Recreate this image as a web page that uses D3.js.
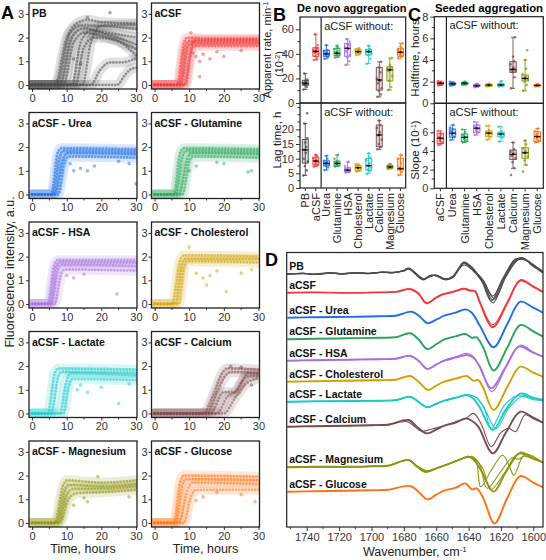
<!DOCTYPE html>
<html>
<head>
<meta charset="utf-8">
<script src="https://cdn.jsdelivr.net/npm/d3@7"></script>
<style>
body { margin: 0; background: #fff; }
svg { font-family: Arial, "Liberation Sans", sans-serif; }
</style>
</head>
<body>
<svg id="fig" width="546" height="560"></svg>
<script>
// ---- shared categories / colours
var sampleNames = ["PB", "aCSF", "Urea", "Glutamine", "HSA", "Cholesterol", "Lactate", "Calcium", "Magnesium", "Glucose"];
var sampleColors = ["#4d4d4d", "#f03c3c", "#1e6ee6", "#2aa55a", "#a86fe0", "#d1a000", "#1ec8c8", "#7b4b4b", "#8c9610", "#ff7314"];
var panelTitles = ["PB", "aCSF", "aCSF - Urea", "aCSF - Glutamine", "aCSF - HSA", "aCSF - Cholesterol", "aCSF - Lactate", "aCSF - Calcium", "aCSF - Magnesium", "aCSF - Glucose"];

// ---- A: kinetic curves, [time h, intensity] key points per replicate
var curvesPB = [
  [[0,0],[6.5,0],[10,2.0],[13,2.6],[16,2.75],[20,2.65],[30.3,2.6]],
  [[0,0],[7,0],[11,2.2],[14,2.5],[18,2.5],[30.3,2.35]],
  [[0,0],[8,0],[11.5,2.0],[15,2.4],[20,2.2],[30.3,1.7]],
  [[0,0],[9,0],[12,1.8],[15,2.2],[22,2.0],[30.3,1.5]],
  [[0,0],[11.5,0],[14,1.8],[17,2.3],[22,2.2],[30.3,2.0]],
  [[0,0],[12.5,0],[15,1.6],[18,2.0],[24,1.9],[30.3,1.2]],
  [[0,0],[14.5,0],[17,1.8],[20,2.5],[30.3,2.55]],
  [[0,0],[17,0],[19.5,0.6],[22.5,0.95],[26,0.95],[30.3,1.15]],
  [[0,0],[24.5,0],[27,0.45],[29,0.7],[30.3,0.72]]
];
var outPB = [[22.5,3.05],[16,2.85],[12,1.1],[14,0.9]];
var curvesACSF = [
  [[0,0],[6.5,0],[8.5,1.8],[9.5,2.0],[15,1.95],[30.3,1.95]],
  [[0,0],[7,0],[9,1.7],[10,1.85],[30.3,1.85]],
  [[0,0],[7.5,0],[9.5,1.6],[10.5,1.75],[30.3,1.75]],
  [[0,0],[8.5,0],[10.5,1.5],[11.5,1.9],[30.3,1.9]],
  [[0,0],[9,0],[11,1.6],[12,1.65],[30.3,1.65]]
];
var outACSF = [[10.5,2.2],[12,1.2],[13,1.0],[14,1.3],[16,1.1],[18,1.4],[20,1.2],[11,1.35],[25,1.45],[13,0.35]];
var curvesUrea = [
  [[0,0],[5.5,0],[7.5,1.8],[8.5,1.95],[30.3,1.9]],
  [[0,0],[6,0],[8,1.6],[9,1.85],[30.3,1.8]],
  [[0,0],[6.5,0],[9,1.5],[10,1.75],[30.3,1.7]],
  [[0,0],[7.5,0],[9.5,1.4],[10.5,1.6],[30.3,1.55]]
];
var outUrea = [[12,1.0],[14,1.1],[16,1.0],[18,1.2],[11,1.3],[25,1.4],[30,0.45],[28,1.3]];
var curvesGlutamine = [
  [[0,0],[5.5,0],[7.5,1.8],[8.5,1.95],[30.3,1.9]],
  [[0,0],[6,0],[8,1.6],[9,1.85],[30.3,1.8]],
  [[0,0],[7,0],[9.5,1.5],[10.5,1.75],[30.3,1.7]],
  [[0,0],[8,0],[10,1.4],[11,1.6],[30.3,1.55]]
];
var outGlutamine = [[10,1.0],[12,1.2],[20,1.3],[28,1.0],[27,0.95],[18,1.35]];
var curvesHSA = [
  [[0,0],[4.5,0],[6.5,1.7],[7.5,1.85],[30.3,1.85]],
  [[0,0],[5,0],[7,1.6],[8,1.75],[30.3,1.75]],
  [[0,0],[5.5,0],[7.5,1.5],[8.5,1.65],[30.3,1.6]],
  [[0,0],[6.5,0],[8.5,1.3],[9.5,1.45],[30.3,1.4]]
];
var outHSA = [[24.5,0.42],[10,1.2],[15,1.25],[12,1.1]];
var curvesCholesterol = [
  [[0,0],[5,0],[7.5,1.9],[8.5,2.05],[30.3,2.0]],
  [[0,0],[6,0],[8,1.7],[9,1.9],[30.3,1.9]],
  [[0,0],[7,0],[8.5,1.5],[9.5,1.8],[30.3,1.75]]
];
var outCholesterol = [[10,2.4],[12,1.3],[14,1.1],[15,0.8],[16,1.2],[20.7,0.52],[18,1.4],[25,1.3],[28,1.45]];
var curvesLactate = [
  [[0,0],[4.5,0],[6.5,1.7],[7.5,1.9],[30.3,1.85]],
  [[0,0],[5.5,0],[7.5,1.5],[8.5,1.75],[30.3,1.7]],
  [[0,0],[8,0],[10,1.4],[11,1.7],[30.3,1.6]],
  [[0,0],[9,0],[10.5,1.1],[11.5,1.45],[30.3,1.4]]
];
var outLactate = [[25,0.42],[13,1.0],[14,1.2],[20,1.1],[28,1.25],[16,0.9]];
var curvesCalcium = [
  [[0,0],[14,0],[17,0.8],[19.5,1.7],[21,1.9],[30.3,1.85]],
  [[0,0],[15,0],[18,0.9],[20,1.5],[22,1.75],[30.3,1.7]],
  [[0,0],[16,0],[20,0.9],[23,0.9],[25,1.3],[27,1.7],[30.3,1.7]],
  [[0,0],[18,0],[21,0.7],[24,1.0],[26,1.5],[28,1.6],[30.3,1.6]],
  [[0,0],[20,0],[23,0.6],[26,1.2],[30.3,1.5]]
];
var outCalcium = [[22,2.0],[25,1.95],[28,1.2]];
var curvesMagnesium = [
  [[0,0],[6.5,0],[9,1.6],[10,1.8],[20,1.7],[30.3,1.8]],
  [[0,0],[7,0],[9.5,1.4],[10.5,1.6],[20,1.55],[30.3,1.65]],
  [[0,0],[7.5,0],[10,1.2],[12,1.45],[20,1.45],[30.3,1.55]],
  [[0,0],[8,0],[10.5,1.0],[13,1.25],[20,1.3],[30.3,1.4]]
];
var outMagnesium = [[16,0.9],[15,1.05],[19,1.95],[28,1.1],[12,0.75]];
var curvesGlucose = [
  [[0,0],[5.5,0],[7.5,1.8],[8.5,2.0],[30.3,1.95]],
  [[0,0],[6,0],[8,1.6],[9,1.85],[30.3,1.8]],
  [[0,0],[7,0],[9.5,1.4],[11,1.7],[30.3,1.65]],
  [[0,0],[8.5,0],[10.5,1.1],[12,1.4],[30.3,1.4]]
];
var outGlucose = [[12,0.95],[14,1.1],[29,0.9],[25,1.2],[18,1.3]];
var kinCurves = [curvesPB, curvesACSF, curvesUrea, curvesGlutamine, curvesHSA, curvesCholesterol, curvesLactate, curvesCalcium, curvesMagnesium, curvesGlucose];
var kinOutliers = [outPB, outACSF, outUrea, outGlutamine, outHSA, outCholesterol, outLactate, outCalcium, outMagnesium, outGlucose];
var timeTicks = [0, 10, 20, 30];
var intensityTicks = [0, 1, 2, 3];

// ---- B / C: box stats [min, q1, median, q3, max] and individual points
var rateStats = [[11,14.5,16,18.5,24],[35,38,42,45,56],[36,38,40,43,47],[37,38.5,40.5,44.5,46.5],[31,38,44.5,48.5,52],[39,40,41.8,43.7,44.5],[32,39,41.8,43.7,46.5],[5,10.5,18.7,29,33.5],[10.5,18,27,29.5,36.5],[36.5,38,41.3,44.5,48.5]];
var ratePoints = [[11,13,14.5,15,15.5,16,16.5,17,18,19,24],[35,36,38,40,41,42,43,44,45,47,56],[36,37.5,38.5,39.5,40,41,42,43,47],[37,38,39,40,41,42,44,45,46.5],[31,34,37,39,42,44,45,47,48,50,52],[39,40,41,41.5,42,43,43.5,44.5],[32,36,39,40.5,41.5,42,43,44,46.5],[5,7,10,12,16,18,20,25,29,33.5],[10.5,13,18,22,26,27,28,29,31,36.5],[36.5,38,39,40.5,41,42,43,44.5,46,48.5]];
var lagStats = [[4.3,8.5,13,16.5,22],[7.3,7.8,9.2,10.5,11.3],[6.1,7.5,8.4,9.3,11],[7.3,7.6,8.4,9.2,11.3],[5.2,5.6,6.1,6.9,8.9],[5.6,5.9,6.9,7.8,8.2],[4.9,6.1,7.6,10.1,11.8],[13.2,14.1,18.1,21.5,23],[6.5,6.7,7.2,7.8,8.2],[4.4,6.1,6.6,10.1,11.3]];
var lagPoints = [[4.3,6,7.5,9,10,12,13,14,15.5,17,22,25.5],[7.3,7.8,8.3,8.8,9.2,9.6,10.2,10.8,11.3],[6.1,7,7.6,8,8.4,8.8,9.3,10,11],[7.3,7.6,8,8.4,8.8,9.2,10,11.3],[5.2,5.5,5.8,6.1,6.4,6.9,7.5,8.9],[5.6,5.9,6.3,6.9,7.2,7.8,8.2],[4.9,5.8,6.3,7,7.6,8.5,9.5,10.5,11.8],[13.2,14,15,16.5,18,19,20.5,21.5,23],[6.5,6.8,7.1,7.3,7.6,8.2],[4.4,5.5,6.2,6.6,7,8.5,10,11.3]];
var halfStats = [[1.65,1.75,1.85,1.95,2.05],[1.62,1.72,1.8,1.88,1.98],[1.68,1.76,1.85,1.92,2.0],[1.48,1.55,1.62,1.72,1.8],[1.55,1.6,1.68,1.75,1.82],[1.55,1.62,1.7,1.8,2.05],[1.38,2.86,3.14,3.84,6.1],[1.16,2.06,2.3,2.61,4.0],[1.55,1.6,1.65,1.72,1.78]];
var halfPoints = [[1.65,1.72,1.8,1.85,1.9,1.95,2.05],[1.62,1.7,1.76,1.8,1.85,1.9,1.98],[1.68,1.75,1.82,1.85,1.9,2.0],[1.48,1.55,1.6,1.65,1.7,1.8],[1.55,1.6,1.66,1.7,1.75,1.82],[1.55,1.62,1.68,1.72,1.8,2.05],[1.38,2.4,2.9,3.0,3.1,3.3,3.6,3.9,4.3,6.1,7.4],[1.16,1.7,2.0,2.2,2.3,2.5,2.7,3.2,4.0,4.9],[1.55,1.6,1.64,1.68,1.72,1.78]];
var slopeStats = [[4.64,4.8,5.36,5.9,6.14],[5.18,5.47,5.9,6.35,6.78],[4.9,5.0,5.46,5.82,6.3],[5.7,5.96,6.43,6.78,7.1],[5.2,5.53,5.9,6.14,6.7],[5.0,5.5,5.8,6.0,6.6],[2.14,3.1,3.64,4.1,4.9],[2.5,3.21,3.8,4.35,5.1],[4.9,5.0,5.53,6.07,6.4]];
var slopePoints = [[4.64,4.9,5.1,5.3,5.5,5.8,6.14],[5.18,5.5,5.7,5.9,6.1,6.3,6.5,6.78],[4.9,5.1,5.3,5.5,5.7,6.0,6.3],[5.7,6.0,6.2,6.4,6.6,6.8,7.1],[5.2,5.5,5.7,5.9,6.0,6.2,6.7],[5.0,5.4,5.6,5.8,5.9,6.1,6.6],[1.43,2.14,2.8,3.2,3.5,3.7,3.9,4.2,4.9],[1.78,2.5,3.0,3.4,3.8,4.0,4.3,4.7,5.1],[4.9,5.1,5.3,5.5,5.7,5.9,6.1,6.4]];
var rateTicks = [0, 20, 40, 60], lagTicks = [0, 5, 10, 15, 20];
var halfTicks = [0, 2, 4, 6, 8], slopeTicks = [0, 2, 4, 6];

// ---- D: second-derivative spectra, [wavenumber, shift from trace baseline] per replicate
var spectraLabels = ["PB", "aCSF", "aCSF - Urea", "aCSF - Glutamine", "aCSF - HSA", "aCSF - Cholesterol", "aCSF - Lactate", "aCSF - Calcium", "aCSF - Magnesium", "aCSF - Glucose"];
var spectraOffsets = [253, 234.3, 209.3, 187.7, 166.3, 145.3, 125.3, 100.3, 59.7, 35.3];
var specPB = [
  [[1752,0],[1742,0.8],[1735,-0.3],[1726,1],[1718,0.2],[1710,1.2],[1702,0.5],[1694,1.8],[1686,1.5],[1680,3.5],[1677,5.7],[1673,1],[1668,-5],[1664,-2],[1660,-1.5],[1655,-5],[1650,-3],[1643,11.3],[1638,6],[1631,-8],[1625,-26],[1618,-4],[1610,14],[1606,15.7],[1600,8],[1594,1.3]],
  [[1752,0],[1742,0.5],[1735,0],[1726,1.2],[1718,0],[1710,1],[1702,0.8],[1694,1.5],[1686,1.8],[1680,3],[1677,5],[1673,0],[1668,-6],[1663,-1],[1659,-2.5],[1654,-6],[1649,-2],[1643,10.5],[1638,5],[1631,-6],[1625,-22],[1618,-2],[1611,15],[1605,14],[1600,9],[1594,2]],
  [[1752,0],[1742,0.6],[1735,-0.5],[1726,0.8],[1718,0.4],[1710,1.4],[1702,0.3],[1694,1.6],[1686,1.2],[1680,3.8],[1677,6],[1673,1.5],[1668,-4.5],[1664,-3],[1660,-1],[1655,-4.5],[1650,-4],[1643,12],[1638,7],[1631,-9],[1625,-29],[1618,-6],[1612,13],[1607,16.5],[1600,8.5],[1594,1]],
  [[1752,0],[1742,0.7],[1735,-0.2],[1726,1.1],[1718,0.1],[1710,1.1],[1702,0.6],[1694,1.7],[1686,1.6],[1680,3.2],[1677,5.4],[1673,0.5],[1668,-5.5],[1664,-1.5],[1660,-2],[1655,-5.5],[1650,-2.5],[1643,11],[1638,5.5],[1631,-7],[1624,-24.5],[1617,-3],[1609,14.5],[1604,13.5],[1600,9.5],[1594,2.5]],
  [[1752,0],[1742,0.4],[1735,-0.4],[1726,0.9],[1718,0.3],[1710,1.3],[1702,0.4],[1694,1.9],[1686,1.4],[1680,3.4],[1677,5.2],[1673,0.8],[1668,-4.8],[1664,-2.5],[1660,-1.2],[1655,-5.2],[1650,-3.5],[1643,9],[1638,4.5],[1632,-7],[1626,-27],[1619,-5],[1611,13],[1606,15],[1600,7.5],[1594,1.5]]
];
var specACSF = [
  [[1752,0],[1735,0.3],[1715,-0.2],[1695,0.3],[1685,0.8],[1676,3.5],[1671,-1],[1666,-10.5],[1660,-5],[1657,-2.3],[1649,1],[1643,4],[1639,2],[1636,1.5],[1633,-10],[1625,-34.5],[1616,-10],[1608,12],[1600,6],[1594,0.5]],
  [[1752,0],[1735,0.4],[1715,0],[1695,0.4],[1685,1],[1676,3.8],[1671,-0.5],[1666,-10],[1660,-4.5],[1657,-2],[1649,1.3],[1643,4.5],[1639,2.5],[1636,1.8],[1633,-9],[1625,-32],[1616,-9],[1608,13],[1600,6.5],[1594,1]]
];
var specUrea = [
  [[1752,0],[1735,0.5],[1715,0.8],[1695,1.5],[1685,2],[1675,6],[1670,1],[1665.5,-5.6],[1660,-2],[1655,2],[1648,5],[1642,8.3],[1638,5],[1633,-8],[1624.5,-29.6],[1616,-6],[1608,16],[1600,10],[1594,5]]
];
var specGlutamine = [
  [[1752,0],[1735,0.5],[1715,1],[1695,1.5],[1685,2],[1676,6],[1671,0],[1665.5,-9.7],[1660,-5],[1655,0],[1648,3],[1642,5.3],[1638,1.5],[1635,2],[1631,-8],[1624.5,-31.3],[1616,-8],[1608,14.3],[1600,8],[1594,2.7]]
];
var specHSA = [
  [[1752,0],[1735,0.5],[1715,1],[1695,1.5],[1685,2],[1676,4.7],[1671,0],[1665.5,-8.3],[1660,-4],[1655,0],[1648,3],[1641,5.7],[1637,3],[1633,-6],[1626,-27.6],[1617,-6],[1609,14],[1600,8],[1594,4]],
  [[1752,0],[1735,0.5],[1715,1],[1695,1.5],[1685,2],[1676,5],[1671,0.3],[1665.5,-8],[1660,-3.5],[1655,0.5],[1648,4],[1641,7.5],[1637,4],[1633,-7],[1625.5,-31],[1617,-7],[1608,15.5],[1600,8.5],[1594,4]]
];
var specCholesterol = [
  [[1752,0],[1735,0.5],[1715,1],[1695,1.5],[1685,2],[1676,5.7],[1671,0],[1665,-8.3],[1660,-4],[1655,0],[1648,3],[1641,5.7],[1637,1],[1634,1.5],[1631,-6],[1624.5,-28.3],[1616,-5],[1608,15],[1600,9],[1594,5]]
];
var specLactate = [
  [[1752,0],[1735,0.3],[1715,0.6],[1695,1],[1685,1.5],[1676,5],[1671,0],[1665.5,-5.6],[1660,-2],[1655,1],[1648,4],[1641,6.7],[1637,3],[1633,-6],[1625,-28.3],[1617,-8],[1608,8],[1600,4],[1594,2]],
  [[1752,0],[1735,0.3],[1715,0.6],[1695,1],[1685,1.5],[1676,5],[1671,0],[1665.5,-5.6],[1660,-2],[1655,1],[1648,4],[1641,6.7],[1636,5],[1631,-4],[1623,-27],[1615,-6],[1606,6],[1600,3],[1594,1.5]],
  [[1752,0],[1735,0.3],[1715,0.6],[1695,1],[1685,1.5],[1676,5],[1671,0],[1665.5,-5.6],[1660,-2],[1655,1],[1648,4],[1640,7],[1635,4],[1630,-8],[1626,-27],[1618,-4],[1610,6],[1600,2],[1594,1]]
];
var specCalcium = [
  [[1752,0],[1735,0.5],[1715,1],[1700,1.5],[1690,2],[1677,6.7],[1672,0],[1666,-6.7],[1660,-3],[1655,1],[1648,4],[1642,8.3],[1638,6],[1634,0],[1625,-26.7],[1617,-6],[1608,15],[1600,9],[1594,4]],
  [[1752,0],[1735,0.5],[1715,1],[1700,1.5],[1690,2],[1678,5],[1674,1],[1669,-4.5],[1662,-2],[1655,1],[1648,5],[1642,8],[1637,13.3],[1632,2],[1626,-20],[1620,-6],[1615,-1.7],[1611,-5],[1605,12],[1600,8],[1594,4]]
];
var specMagnesium = [
  [[1752,0],[1735,0.5],[1715,0.5],[1700,1],[1690,1.5],[1677,7.3],[1672,1],[1666,-4.3],[1660,-1],[1653,3],[1645,8],[1640,10.7],[1636,6],[1632,-4],[1624.5,-24.3],[1617,-5],[1608,14.7],[1600,9],[1594,4.7]],
  [[1752,0],[1735,0.5],[1715,0.5],[1700,1],[1690,1.5],[1677,7],[1672,0.5],[1667,-5],[1660,-1.5],[1653,3],[1645,8],[1641,10],[1638,11],[1635,4],[1632.5,-19.5],[1626,-3],[1619,12],[1615,2],[1612,-8],[1606,11],[1600,8],[1594,4.7]],
  [[1752,0],[1735,0.5],[1715,0.5],[1700,1],[1690,1.5],[1677,7.5],[1672,1.5],[1665,-3.5],[1660,-1],[1653,3],[1645,8],[1641,10],[1637,10],[1633,2],[1628.5,-21],[1620,-4],[1613,9.5],[1609,8],[1604,13],[1594,4.7]],
  [[1752,0],[1735,0.5],[1715,0.5],[1700,1],[1690,1.5],[1677,7],[1672,1],[1666,-4],[1660,-1],[1653,3],[1645,8],[1641,10],[1636,8],[1631,-2],[1626.4,-22.5],[1618,-6],[1610,13],[1605,12.5],[1594,4.7]]
];
var specGlucose = [
  [[1752,0],[1735,0.5],[1715,1],[1700,1.5],[1690,2],[1676,5.7],[1671,0],[1665.5,-7.7],[1660,-3],[1655,1],[1648,4],[1642,8.3],[1638,2.3],[1635,3.3],[1631,-6],[1624,-31.7],[1616,-6],[1608,15.7],[1600,9],[1594,4.3]]
];
var spectra = [specPB, specACSF, specUrea, specGlutamine, specHSA, specCholesterol, specLactate, specCalcium, specMagnesium, specGlucose];
var waveTicks = [1740, 1720, 1700, 1680, 1660, 1640, 1620, 1600];

var svg = d3.select("#fig");
svg.append("rect").attr("width", 546).attr("height", 560).attr("fill", "#fff");

var intFormat = d3.format("d");

function style_axis(g, size){
    g.select(".domain").remove();
    g.selectAll(".tick line").attr("stroke", "#333").attr("stroke-width", 1);
    g.selectAll(".tick text").attr("fill", "#333").style("font-size", (size || 11) + "px");
}

function minor_ticks(g, scale, values, orient, pos, len){
    values.forEach(function(v){
        var p = scale(v);
        if(orient == "left")
            g.append("line").attr("x1", pos).attr("x2", pos - len).attr("y1", p).attr("y2", p)
              .attr("stroke", "#333").attr("stroke-width", 1);
        else
            g.append("line").attr("x1", p).attr("x2", p).attr("y1", pos).attr("y2", pos + len)
              .attr("stroke", "#333").attr("stroke-width", 1);
    });
}

// ================= A =================
function draw_kinetics(i){
    var col = i % 2, row = Math.floor(i / 2);
    var left = col == 0 ? 29 : 151.5;
    var w = 108;
    var zero = 85 + row * 109.5;
    var color = sampleColors[i];

    var x = d3.scaleLinear().domain([-0.9, 30.3]).range([left, left + w]);
    var y = d3.scaleLinear().domain([-0.17, 3.46]).range([zero + 4, zero - 82]);

    var g = svg.append("g");
    g.append("clipPath").attr("id", "clipA" + i).append("rect")
        .attr("x", left).attr("y", zero - 82).attr("width", w).attr("height", 86);
    var plot = g.append("g").attr("clip-path", "url(#clipA" + i + ")");

    var line = d3.line().curve(d3.curveMonotoneX)
        .x(function(d){ return x(d[0]); })
        .y(function(d){ return y(d[1]); });

    // fuzzy band under the markers
    plot.selectAll(".band").data(kinCurves[i]).enter().append("path")
        .attr("d", line)
        .attr("fill", "none").attr("stroke", color)
        .attr("stroke-width", 10).attr("stroke-opacity", 0.17)
        .attr("stroke-linecap", "round").attr("stroke-linejoin", "round");

    // marker chains (round dots along each replicate)
    plot.selectAll(".dots").data(kinCurves[i]).enter().append("path")
        .attr("d", line)
        .attr("fill", "none").attr("stroke", color)
        .attr("stroke-width", 2.8).attr("stroke-opacity", 0.55)
        .attr("stroke-dasharray", "0 3.2")
        .attr("stroke-linecap", "round");

    plot.selectAll(".out").data(kinOutliers[i]).enter().append("circle")
        .attr("cx", function(d){ return x(d[0]); })
        .attr("cy", function(d){ return y(d[1]); })
        .attr("r", 1.4)
        .attr("fill", color).attr("fill-opacity", 0.4)
        .attr("stroke", color).attr("stroke-opacity", 0.7).attr("stroke-width", 0.5);

    var ax = g.append("g").attr("transform", "translate(0," + (zero + 4) + ")")
        .call(d3.axisBottom(x).tickValues(timeTicks).tickFormat(intFormat).tickSize(3).tickPadding(2));
    style_axis(ax);
    minor_ticks(g, x, [5, 15, 25], "bottom", zero + 4, 2);

    var ay = g.append("g").attr("transform", "translate(" + left + ",0)")
        .call(d3.axisLeft(y).tickValues(intensityTicks).tickFormat(intFormat).tickSize(3).tickPadding(col == 0 ? 2 : 1));
    style_axis(ay);

    g.append("rect").attr("x", left).attr("y", zero - 82).attr("width", w).attr("height", 86)
        .attr("fill", "none").attr("stroke", "#222").attr("stroke-width", 1.3);

    g.append("text").attr("x", left + 3).attr("y", zero - 68)
        .style("font-size", "10.5px").style("font-weight", "bold").attr("fill", "#111")
        .text(panelTitles[i]);
}
for(var k = 0; k < 10; k++) draw_kinetics(k);

svg.append("text").attr("x", 1).attr("y", 19).style("font-size", "18px").style("font-weight", "bold").text("A");
svg.append("text").attr("transform", "translate(14,272) rotate(-90)").attr("text-anchor", "middle")
    .style("font-size", "12.5px").attr("fill", "#222").text("Fluorescence intensity, a.u.");
svg.append("text").attr("x", 83).attr("y", 553).attr("text-anchor", "middle")
    .style("font-size", "12.5px").attr("fill", "#222").text("Time, hours");
svg.append("text").attr("x", 205.5).attr("y", 553).attr("text-anchor", "middle")
    .style("font-size", "12.5px").attr("fill", "#222").text("Time, hours");

// ================= B & C =================
var jitter = [-2, 1.5, -0.5, 2.5, -1.5, 0.5, -2.5, 1, 0, 2, -1, 1.8];

function draw_boxes(g, x, y, cats, stats, points, colors, bw){
    cats.forEach(function(c, i){
        var s = stats[i], cx = x(c), col = colors[i];
        g.append("line").attr("x1", cx).attr("x2", cx).attr("y1", y(s[0])).attr("y2", y(s[4]))
            .attr("stroke", col).attr("stroke-width", 0.9);
        [s[0], s[4]].forEach(function(v){
            g.append("line").attr("x1", cx - 2).attr("x2", cx + 2).attr("y1", y(v)).attr("y2", y(v))
                .attr("stroke", col).attr("stroke-width", 0.9);
        });
        g.append("rect").attr("x", cx - bw / 2).attr("y", y(s[3]))
            .attr("width", bw).attr("height", Math.max(1, y(s[1]) - y(s[3])))
            .attr("fill", col).attr("fill-opacity", 0.22)
            .attr("stroke", col).attr("stroke-width", 0.9);
        g.selectAll(null).data(points[i]).enter().append("circle")
            .attr("cx", function(d, j){ return cx + jitter[j % jitter.length]; })
            .attr("cy", function(d){ return y(d); })
            .attr("r", 1.3)
            .attr("fill", col).attr("fill-opacity", 0.75);
        g.append("line").attr("x1", cx - bw / 2).attr("x2", cx + bw / 2).attr("y1", y(s[2])).attr("y2", y(s[2]))
            .attr("stroke", "#111").attr("stroke-width", 1.1);
        g.append("rect").attr("x", cx - 1).attr("y", y(s[2]) - 1).attr("width", 2).attr("height", 2)
            .attr("fill", "#111");
    });
}

function draw_panel(opts){
    var g = svg.append("g");
    var x = d3.scalePoint().domain(opts.cats).range([opts.x0, opts.x1]).padding(0.5);
    var sep = (x(opts.cats[opts.sepAfter]) + x(opts.cats[opts.sepAfter + 1])) / 2;

    [opts.top, opts.bottom].forEach(function(p){
        var y = d3.scaleLinear().domain(p.domain).range([p.y1, p.y0]);
        draw_boxes(g, x, y, opts.cats, p.stats, p.points, opts.colors, opts.bw);
        var ay = g.append("g").attr("transform", "translate(" + opts.x0 + ",0)")
            .call(d3.axisLeft(y).tickValues(p.ticks).tickFormat(intFormat).tickSize(4).tickPadding(2));
        style_axis(ay);
        minor_ticks(g, y, p.minor, "left", opts.x0, 2.5);
        g.append("text").attr("x", sep + 3).attr("y", p.y0 + 12.5)
            .style("font-size", "11px").attr("fill", "#222").text("aCSF without:");
        g.append("rect").attr("x", opts.x0).attr("y", p.y0).attr("width", opts.x1 - opts.x0).attr("height", p.y1 - p.y0)
            .attr("fill", "none").attr("stroke", "#222").attr("stroke-width", 1.2);
    });

    g.append("line").attr("x1", sep).attr("x2", sep).attr("y1", opts.top.y0).attr("y2", opts.bottom.y1)
        .attr("stroke", "#222").attr("stroke-width", 1.2);

    var yb = opts.bottom.y1;
    opts.cats.forEach(function(c){
        g.append("line").attr("x1", x(c)).attr("x2", x(c)).attr("y1", yb).attr("y2", yb + 3)
            .attr("stroke", "#333");
        g.append("text").attr("transform", "translate(" + (x(c) + 4) + "," + (yb + 5) + ") rotate(-90)")
            .attr("text-anchor", "end").style("font-size", "11px").attr("fill", "#222").text(c);
    });
}

draw_panel({
    cats: sampleNames, colors: sampleColors, x0: 300, x1: 405.7, sepAfter: 1, bw: 6,
    top: { domain: [0, 70], y0: 17, y1: 103, stats: rateStats, points: ratePoints, ticks: rateTicks, minor: [10, 30, 50] },
    bottom: { domain: [0, 29], y0: 103, y1: 188, stats: lagStats, points: lagPoints, ticks: lagTicks, minor: [2.5, 7.5, 12.5, 17.5, 22.5, 25, 27.5] }
});
draw_panel({
    cats: sampleNames.slice(1), colors: sampleColors.slice(1), x0: 434.3, x1: 543.3, sepAfter: 0, bw: 6.5,
    top: { domain: [0, 8], y0: 16.7, y1: 103.3, stats: halfStats, points: halfPoints, ticks: halfTicks, minor: [1, 3, 5, 7] },
    bottom: { domain: [0, 9.1], y0: 103.3, y1: 188.3, stats: slopeStats, points: slopePoints, ticks: slopeTicks, minor: [1, 3, 5, 7, 8] }
});

svg.append("text").attr("x", 273).attr("y", 21).style("font-size", "18px").style("font-weight", "bold").text("B");
svg.append("text").attr("x", 297).attr("y", 12).style("font-size", "11px").style("font-weight", "bold").text("De novo aggregation");
svg.append("text").attr("x", 408).attr("y", 21).style("font-size", "18px").style("font-weight", "bold").text("C");
svg.append("text").attr("x", 435).attr("y", 12).style("font-size", "11.3px").style("font-weight", "bold").text("Seeded aggregation");

function rot_label(x, y, parts, size){
    var t = svg.append("text").attr("transform", "translate(" + x + "," + y + ") rotate(-90)")
        .attr("text-anchor", "middle").style("font-size", (size || 11.5) + "px").attr("fill", "#222");
    parts.forEach(function(p){
        var s = t.append("tspan").text(p[0]);
        if(p[1]) s.attr("baseline-shift", "super").style("font-size", "7px");
    });
}
rot_label(271, 50, [["Apparent rate, min"], ["-1", true]], 11);
rot_label(282.5, 64, [["(10"], ["-2", true], [")"]], 11);
rot_label(281, 140, [["Lag time, h"]]);
rot_label(419, 58, [["Halftime, hours"]]);
rot_label(419, 150, [["Slope (10"], ["-1", true], [")"]]);

// ================= D =================
(function(){
    var x0 = 286.7, x1 = 543, y0 = 252.5, y1 = 527;
    var x = d3.scaleLinear().domain([1752.4, 1594]).range([x0, x1]);
    var y = d3.scaleLinear().domain([0, y1 - y0]).range([y1, y0]);
    var g = svg.append("g");

    g.append("clipPath").attr("id", "clipD").append("rect")
        .attr("x", x0).attr("y", y0).attr("width", x1 - x0).attr("height", y1 - y0);
    var plot = g.append("g").attr("clip-path", "url(#clipD)");

    spectra.forEach(function(reps, i){
        var base = spectraOffsets[i];
        var line = d3.line().curve(d3.curveCatmullRom.alpha(0.5))
            .x(function(d){ return x(d[0]); })
            .y(function(d){ return y(base + d[1]); });
        reps.forEach(function(r, j){
            plot.append("path").attr("d", line(r))
                .attr("fill", "none").attr("stroke", sampleColors[i])
                .attr("stroke-width", i == 0 ? 1.1 : (j == 0 ? 1.9 : 1.1))
                .attr("stroke-linejoin", "round");
        });
        g.append("text").attr("x", x0 + 2.5).attr("y", y(base) - 4)
            .style("font-size", "10.5px").style("font-weight", "bold").attr("fill", "#111")
            .text(spectraLabels[i]);
    });

    var ax = g.append("g").attr("transform", "translate(0," + y1 + ")")
        .call(d3.axisBottom(x).tickValues(waveTicks).tickFormat(intFormat).tickSize(4).tickPadding(2));
    style_axis(ax);
    minor_ticks(g, x, [1750, 1730, 1710, 1690, 1670, 1650, 1630, 1610], "bottom", y1, 2);

    g.append("rect").attr("x", x0).attr("y", y0).attr("width", x1 - x0).attr("height", y1 - y0)
        .attr("fill", "none").attr("stroke", "#222").attr("stroke-width", 1.2);

    var t = svg.append("text").attr("x", (x0 + x1) / 2).attr("y", 556).attr("text-anchor", "middle")
        .style("font-size", "12.5px").attr("fill", "#222");
    t.append("tspan").text("Wavenumber,  cm");
    t.append("tspan").attr("baseline-shift", "super").style("font-size", "8px").text("-1");

    svg.append("text").attr("x", 265).attr("y", 266).style("font-size", "18px").style("font-weight", "bold").text("D");
})();
</script>
</body>
</html>
